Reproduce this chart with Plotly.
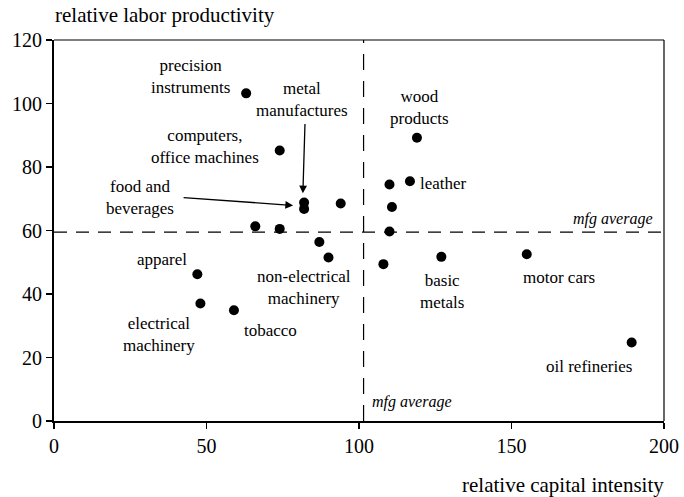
import plotly.graph_objects as go

# ---- data ----
capital_intensity = [63, 74, 82, 82, 94, 66, 74, 87, 90, 110, 116.7, 110.8, 110, 108, 119, 127, 155, 189.4, 47, 48, 59]
labor_productivity = [103.2, 85.2, 68.8, 66.8, 68.5, 61.3, 60.5, 56.4, 51.5, 74.5, 75.5, 67.4, 59.7, 49.4, 89.2, 51.7, 52.5, 24.7, 46.2, 37, 34.9]

mfg_avg_capital = 101.5
mfg_avg_productivity = 59.5

x_ticks = [0, 50, 100, 150, 200]
y_ticks = [0, 20, 40, 60, 80, 100, 120]

# label text and placement (data units)
label_text = ["precision<br>instruments", "metal<br>manufactures", "computers,<br>office machines",
              "food and<br>beverages", "wood<br>products", "leather", "apparel",
              "electrical<br>machinery", "tobacco", "non-electrical<br>machinery",
              "basic<br>metals", "motor cars", "oil refineries"]
label_x = [44.9, 81.3, 49.5, 28.2, 119.7, 119.3, 35.4, 34.4, 71.1, 82.0, 127.1, 165.6, 175.4]
label_y = [108.5, 101.3, 86.5, 70.4, 98.6, 74.8, 50.9, 27.4, 28.6, 42.0, 40.7, 45.3, 17.3]
label_anchor = ["center", "center", "center", "center", "center", "left", "center",
                "center", "center", "center", "center", "center", "center"]

# arrows: (tip x, tip y, tail x, tail y)
arrow_tip_x = [81.6, 78.4]
arrow_tip_y = [71.7, 67.9]
arrow_tail_x = [82.3, 42.0]
arrow_tail_y = [94.0, 70.4]

FONT = "Liberation Serif, Times New Roman, serif"

W, H = 684, 497
PL, PR, PT, PB = 54, 664, 40, 421          # target plot-area edges
L, T, R, B = PL, PT, W - PR, H - PB
pw, ph = W - L - R, H - T - B


def px_to_paper_x(px):
    return (px - L) / pw


def py_to_paper_y(py):
    return ((H - B) - py) / ph


fig = go.Figure()
fig.add_trace(go.Scatter(
    x=capital_intensity, y=labor_productivity, mode="markers",
    marker=dict(color="black", size=10), hoverinfo="skip", showlegend=False))

annotations = []
for t, x, y, a in zip(label_text, label_x, label_y, label_anchor):
    annotations.append(dict(x=x, y=y, xref="x", yref="y", text=t, showarrow=False,
                            xanchor=a, yanchor="middle", align="center",
                            font=dict(family=FONT, size=17, color="black")))
for tx, ty, ax, ay in zip(arrow_tip_x, arrow_tip_y, arrow_tail_x, arrow_tail_y):
    annotations.append(dict(x=tx, y=ty, xref="x", yref="y", ax=ax, ay=ay,
                            axref="x", ayref="y", text="", showarrow=True,
                            arrowhead=2, arrowsize=1.2, arrowwidth=1.3,
                            arrowcolor="black", standoff=0))
# mfg average labels
annotations.append(dict(x=197, y=mfg_avg_productivity + 4, xref="x", yref="y",
                        text="<i>mfg average</i>", showarrow=False, xanchor="right",
                        yanchor="middle", font=dict(family=FONT, size=16, color="black")))
annotations.append(dict(x=mfg_avg_capital + 2, y=6, xref="x", yref="y",
                        text="<i>mfg average</i>", showarrow=False, xanchor="left",
                        yanchor="middle", font=dict(family=FONT, size=16, color="black")))
# axis titles
annotations.append(dict(x=px_to_paper_x(53), y=py_to_paper_y(15), xref="paper", yref="paper",
                        text="relative labor productivity", showarrow=False,
                        xanchor="left", yanchor="middle",
                        font=dict(family=FONT, size=21, color="black")))
annotations.append(dict(x=px_to_paper_x(666), y=py_to_paper_y(485), xref="paper", yref="paper",
                        text="relative capital intensity", showarrow=False,
                        xanchor="right", yanchor="middle",
                        font=dict(family=FONT, size=21, color="black")))

shapes = [
    dict(type="line", xref="x", yref="y", x0=0, x1=200, y0=mfg_avg_productivity, y1=mfg_avg_productivity,
         line=dict(color="black", width=1.2, dash="13px,9px")),
    dict(type="line", xref="x", yref="y", x0=mfg_avg_capital, x1=mfg_avg_capital, y0=0, y1=120,
         line=dict(color="black", width=1.2, dash="16px,11px")),
    dict(type="line", xref="paper", yref="paper", x0=0, x1=1, y0=1, y1=1,
         line=dict(color="black", width=1.2)),
    dict(type="line", xref="paper", yref="paper", x0=1, x1=1, y0=0, y1=1,
         line=dict(color="black", width=1.2)),
]
fig.update_layout(
    width=W, height=H,
    margin=dict(l=L, r=R, t=T, b=B, pad=0, autoexpand=False),
    paper_bgcolor="white", plot_bgcolor="white",
    annotations=annotations,
    shapes=shapes,
    xaxis=dict(range=[0, 200], tickvals=x_ticks, showgrid=False, zeroline=False,
               automargin=False,
               showline=True, linecolor="black", linewidth=2, ticks="outside",
               ticklen=6, tickcolor="black", tickwidth=1.2,
               tickfont=dict(family=FONT, size=20, color="black")),
    yaxis=dict(range=[0, 120], tickvals=y_ticks, showgrid=False, zeroline=False,
               automargin=False,
               showline=True, linecolor="black", linewidth=2, ticks="outside",
               ticklen=6, tickcolor="black", tickwidth=1.2,
               tickfont=dict(family=FONT, size=20, color="black")),
)
# remove the browser's default 8px page margin so the 684x497 figure fills the window exactly
fig.write_html("out.html",
               config={"displayModeBar": False, "staticPlot": True},
               post_script="document.body.style.margin='0';document.body.style.overflow='hidden';")
